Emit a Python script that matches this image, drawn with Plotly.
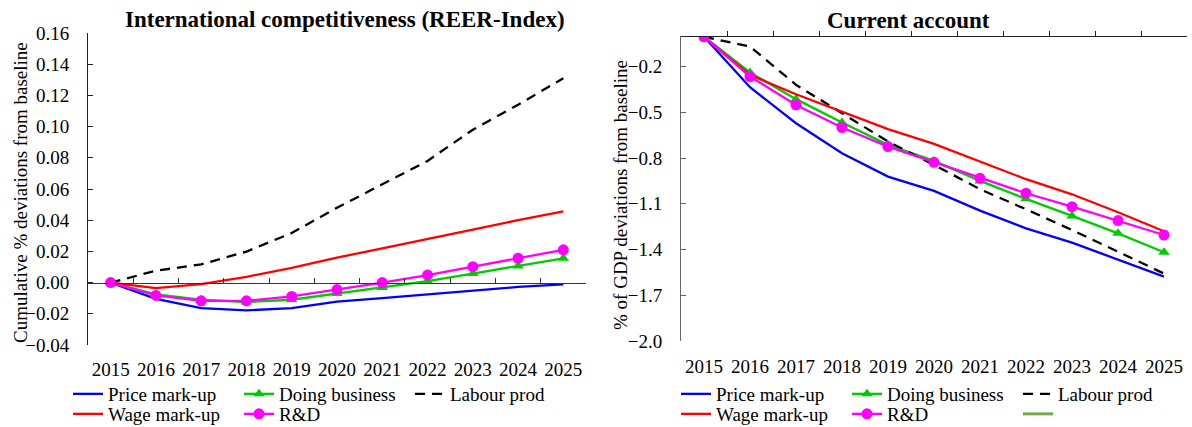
import plotly.graph_objects as go

# ---------------- data ----------------
years = [str(y) for y in range(2015, 2026)]

reer_price = [0.0, -0.0104, -0.0164, -0.0178, -0.0164, -0.0122, -0.0100, -0.0076, -0.0048, -0.0028, -0.0011]
reer_wage = [0.0, -0.0035, -0.0010, 0.0037, 0.0095, 0.0160, 0.0220, 0.0278, 0.0340, 0.0400, 0.0456]
reer_doing = [0.0, -0.0076, -0.0110, -0.0125, -0.0110, -0.0070, -0.0032, 0.0009, 0.0058, 0.0106, 0.0156]
reer_rd = [0.0, -0.0082, -0.0117, -0.0117, -0.0089, -0.0045, 0.0000, 0.0048, 0.0102, 0.0156, 0.0210]
reer_labour = [0.0, 0.0076, 0.0117, 0.0199, 0.0318, 0.0480, 0.0630, 0.0780, 0.0980, 0.1140, 0.1310]

ca_price = [-0.005, -0.336, -0.572, -0.769, -0.922, -1.016, -1.145, -1.261, -1.355, -1.464, -1.578]
ca_wage = [-0.005, -0.255, -0.382, -0.495, -0.611, -0.707, -0.823, -0.939, -1.038, -1.156, -1.280]
ca_doing = [-0.005, -0.239, -0.414, -0.567, -0.714, -0.819, -0.950, -1.068, -1.180, -1.294, -1.418]
ca_rd = [-0.005, -0.266, -0.452, -0.600, -0.725, -0.828, -0.933, -1.031, -1.119, -1.210, -1.305]
ca_labour = [-0.005, -0.069, -0.320, -0.506, -0.692, -0.845, -1.005, -1.136, -1.272, -1.414, -1.558]

left_title = "International competitiveness (REER-Index)"
right_title = "Current account"
left_ytitle = "Cumulative % deviations from baseline"
right_ytitle = "% of GDP deviations from baseline"

# ---------------- layout geometry ----------------
W, H = 1192, 427
FONT = "Liberation Serif"

xL = [88 / W, 586 / W]
xR = [681 / W, 1187 / W]
yL = [1 - 345 / H, 1 - 33 / H]
yR = [1 - 341 / H, 1 - 36 / H]
rngL = [-0.04, 0.16]
rngR = [-2.0, 0.0]


def zero_pos(dom, rng):
    return dom[0] + (0 - rng[0]) / (rng[1] - rng[0]) * (dom[1] - dom[0])


posL = zero_pos(yL, rngL)
posR = zero_pos(yR, rngR)

C_BLUE, C_RED, C_GREEN, C_MAG = "#0000FF", "#FF0000", "#00CC00", "#FF00FF"
LW = 2.3
DASH = "10px,7px"

fig = go.Figure()


def add_series(xa, ya, vals, name, color, legend, dash=None, marker=None):
    kw = dict(x=years, y=vals, name=name, xaxis=xa, yaxis=ya, legend=legend,
              line=dict(color=color, width=LW, dash=dash), hoverinfo="skip")
    if marker:
        kw["mode"] = "lines+markers"
        kw["marker"] = dict(symbol=marker[0], size=marker[1], color=color)
    else:
        kw["mode"] = "lines"
    fig.add_trace(go.Scatter(**kw))


# left chart
add_series("x", "y", reer_price, "Price mark-up", C_BLUE, "legend")
add_series("x", "y", reer_doing, "Doing business", C_GREEN, "legend", marker=("triangle-up", 10))
add_series("x", "y", reer_labour, "Labour prod", "#000000", "legend", dash=DASH)
add_series("x", "y", reer_wage, "Wage mark-up", C_RED, "legend2")
add_series("x", "y", reer_rd, "R&D", C_MAG, "legend2", marker=("circle", 11))

# right chart
add_series("x2", "y2", ca_price, "Price mark-up", C_BLUE, "legend3")
add_series("x2", "y2", ca_doing, "Doing business", C_GREEN, "legend3", marker=("triangle-up", 10))
add_series("x2", "y2", ca_labour, "Labour prod", "#000000", "legend3", dash=DASH)
add_series("x2", "y2", ca_wage, "Wage mark-up", C_RED, "legend4")
add_series("x2", "y2", ca_rd, "R&D", C_MAG, "legend4", marker=("circle", 11))
fig.add_trace(go.Scatter(x=[None], y=[None], name=" ", mode="lines", xaxis="x2", yaxis="y2",
                         legend="legend4", line=dict(color="#70AD47", width=3)))

tickfont = dict(family=FONT, size=19, color="#000000")


def xaxis(dom, anchor_pos, standoff, lc):
    return dict(domain=dom, type="category", range=[-0.5, 10.5], tickson="boundaries",
                ticks="inside", ticklen=5, tickcolor=lc, showline=True, linecolor=lc, linewidth=1,
                anchor="free", position=anchor_pos, side="bottom", showgrid=False, tickangle=0,
                zeroline=False, tickfont=tickfont, ticklabelstandoff=standoff, fixedrange=True)


def yaxis(dom, rng, tick0, dtick, fmt, anchor, lc):
    return dict(domain=dom, range=rng, tick0=tick0, dtick=dtick, tickformat=fmt,
                ticks="inside", ticklen=5, tickcolor=lc, showline=True, linecolor=lc, linewidth=1,
                showgrid=False, zeroline=False, anchor=anchor, tickfont=tickfont,
                ticklabelstandoff=14, fixedrange=True)


standL = int(round((posL - yL[0]) * H)) + 8
standR = int(round((posR - yR[0]) * H)) + 8


def legend(x_px, y_px):
    return dict(orientation="h", x=x_px / W, y=1 - y_px / H, xanchor="left", yanchor="middle",
                bgcolor="rgba(0,0,0,0)", borderwidth=0, entrywidth=126, entrywidthmode="pixels",
                font=dict(family=FONT, size=19, color="#000000"), itemwidth=30,
                tracegroupgap=0)


fig.update_layout(
    width=W, height=H,
    margin=dict(l=0, r=0, t=0, b=0, pad=0, autoexpand=False),
    paper_bgcolor="white", plot_bgcolor="white",
    font=dict(family=FONT, size=19, color="#000000"),
    xaxis=xaxis(xL, posL, standL, "#333333"),
    yaxis=yaxis(yL, rngL, -0.04, 0.02, ".2f", "x", "#222222"),
    xaxis2=xaxis(xR, posR, standR, "#222222"),
    yaxis2=yaxis(yR, rngR, -2.0, 0.3, ".1f", "x2", "#666666"),
    legend=legend(68, 394),
    legend2=legend(68, 414),
    legend3=legend(676, 394),
    legend4=legend(676, 414),
    annotations=[
        dict(text="<b>" + left_title + "</b>", x=345 / W, y=1 - 19 / H, xref="paper", yref="paper",
             showarrow=False, font=dict(family=FONT, size=23, color="#000000"),
             xanchor="center", yanchor="middle"),
        dict(text="<b>" + right_title + "</b>", x=908 / W, y=1 - 20 / H, xref="paper", yref="paper",
             showarrow=False, font=dict(family=FONT, size=23, color="#000000"),
             xanchor="center", yanchor="middle"),
        dict(text=left_ytitle, x=20 / W, y=1 - 193 / H, xref="paper", yref="paper",
             showarrow=False, textangle=-90, font=dict(family=FONT, size=19, color="#000000"),
             xanchor="center", yanchor="middle"),
        dict(text=right_ytitle, x=620 / W, y=1 - 195 / H, xref="paper", yref="paper",
             showarrow=False, textangle=-90, font=dict(family=FONT, size=19, color="#000000"),
             xanchor="center", yanchor="middle"),
    ],
)

fig.write_html("out.html", config={"displayModeBar": False},
               post_script="document.body.style.margin='0';document.body.style.overflow='hidden';")
